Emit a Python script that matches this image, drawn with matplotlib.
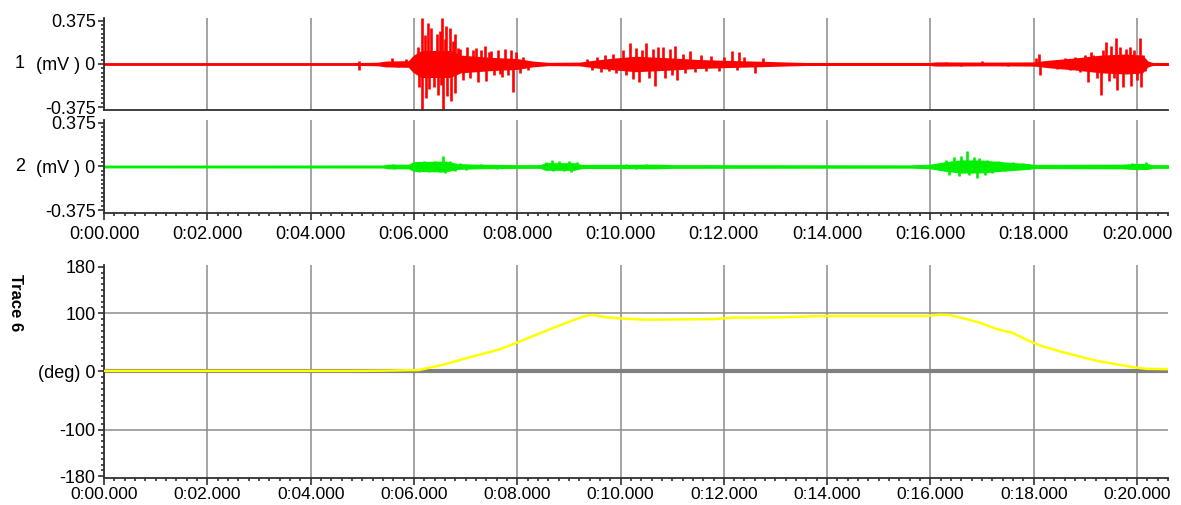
import matplotlib
matplotlib.use('Agg')
import matplotlib.pyplot as plt
from matplotlib.ticker import MultipleLocator, FuncFormatter

plt.rcParams['font.family'] = ['Liberation Sans', 'DejaVu Sans']

# channel 1 (red EMG): dense-core envelope + individual spikes, in mV
emg1_env_t = [0.0, 4.8, 5.3, 5.45, 5.9, 6.0, 6.15, 6.7, 6.9, 7.5, 8.0, 8.3, 8.6,
              9.2, 9.5, 9.9, 10.3, 11.0, 11.5, 12.0, 12.6, 13.3, 13.6, 16.0, 16.1,
              17.2, 18.0, 18.3, 18.8, 19.3, 19.8, 20.1, 20.2, 20.3, 20.6]
emg1_env = [0.005, 0.005, 0.008, 0.018, 0.022, 0.07, 0.11, 0.11, 0.07, 0.05, 0.04,
            0.018, 0.007, 0.009, 0.026, 0.045, 0.06, 0.045, 0.032, 0.025, 0.018,
            0.009, 0.006, 0.006, 0.011, 0.009, 0.011, 0.026, 0.045, 0.07, 0.08,
            0.07, 0.02, 0.006, 0.006]
emg1_spike_t = [4.93, 4.93, 5.57, 5.70, 5.85,
                6.08, 6.10, 6.15, 6.16, 6.21, 6.24, 6.27, 6.30, 6.34, 6.38, 6.44,
                6.47, 6.50, 6.53, 6.55, 6.56, 6.60, 6.63, 6.64, 6.70, 6.71, 6.76,
                6.79, 6.80, 6.85, 6.90, 6.95, 7.02, 7.08, 7.14, 7.21, 7.25, 7.30,
                7.37, 7.40, 7.45, 7.50, 7.55, 7.62, 7.66, 7.70, 7.76, 7.82, 7.88,
                7.92, 7.98, 8.05, 8.12, 8.20,
                9.35, 9.45, 9.55, 9.62, 9.70, 9.78, 9.85, 9.92, 10.05, 10.10, 10.18,
                10.24, 10.30, 10.36, 10.42, 10.50, 10.55, 10.62, 10.66, 10.72,
                10.82, 10.86, 10.95, 11.00, 11.06, 11.10, 11.20, 11.25, 11.34,
                11.45, 11.55, 11.65, 11.75, 11.90, 12.00, 12.15, 12.25, 12.30,
                12.40, 12.60, 12.75,
                16.3, 16.6, 17.0, 17.5, 18.05, 18.10, 18.12, 18.3, 18.45, 18.6,
                18.7, 18.8, 18.9, 19.0, 19.05, 19.10, 19.15, 19.22, 19.30, 19.35,
                19.40, 19.45, 19.50, 19.55, 19.60, 19.62, 19.68, 19.72, 19.78,
                19.86, 19.88, 19.95, 20.0, 20.05, 20.07, 20.12, 20.15]
emg1_spike_v = [0.03, -0.05, 0.05, -0.03, 0.04,
                0.15, -0.20, 0.40, -0.40, 0.25, -0.30, 0.36, -0.22, 0.31, -0.20, 0.26,
                -0.27, 0.29, -0.18, 0.40, -0.40, 0.22, 0.33, -0.28, 0.31, -0.32, 0.20,
                0.26, -0.25, 0.14, 0.13, -0.14, 0.15, -0.12, 0.12, 0.14, -0.16, 0.12,
                0.16, -0.15, 0.10, 0.11, -0.10, 0.12, -0.09, -0.11, 0.13, -0.10, 0.12,
                -0.24, 0.10, -0.08, 0.06, -0.05,
                0.04, -0.05, 0.06, -0.07, 0.08, -0.06, 0.09, -0.08, 0.12, -0.10, 0.18,
                -0.13, 0.14, -0.16, 0.12, 0.18, -0.12, 0.13, -0.19, 0.15,
                0.15, -0.12, 0.13, -0.10, 0.16, -0.14, 0.09, -0.08, 0.11,
                -0.07, 0.08, -0.06, 0.07, -0.06, 0.06, 0.11, -0.05, 0.10,
                0.06, -0.08, 0.05,
                0.02, -0.02, 0.025, -0.02, 0.05, 0.085, -0.10, 0.03, -0.04, 0.05,
                -0.05, 0.06, -0.07, 0.08, -0.16, 0.10, 0.08, -0.12, -0.27, 0.12,
                0.19, -0.15, 0.16, -0.12, 0.23, -0.23, 0.15, -0.20, 0.13,
                0.15, -0.19, 0.12, -0.14, 0.23, -0.20, 0.08, -0.06]

# channel 2 (green EMG), in mV
emg2_env_t = [0.0, 5.4, 5.5, 5.9, 6.0, 6.6, 6.85, 7.2, 8.0, 8.45, 8.55, 9.1, 9.25,
              10.0, 10.7, 11.0, 15.6, 16.0, 16.3, 16.6, 17.0, 17.5, 17.9, 18.0,
              19.7, 20.0, 20.2, 20.3, 20.6]
emg2_env = [0.005, 0.006, 0.013, 0.013, 0.035, 0.04, 0.018, 0.013, 0.009, 0.009,
            0.026, 0.026, 0.011, 0.011, 0.013, 0.009, 0.007, 0.013, 0.035, 0.05,
            0.048, 0.03, 0.018, 0.011, 0.013, 0.02, 0.018, 0.009, 0.009]
emg2_spike_t = [5.6, 5.62, 6.05, 6.10, 6.2, 6.3, 6.4, 6.5, 6.57, 6.6, 6.7, 6.8, 6.9,
                7.0, 7.3, 7.6, 8.55, 8.67, 8.7, 8.8, 8.9, 9.0, 9.05, 9.15, 10.1, 10.3,
                10.5, 16.3, 16.35, 16.45, 16.55, 16.6, 16.7, 16.75, 16.85, 16.9,
                16.95, 17.05, 17.1, 17.2, 17.3, 17.45, 17.6, 17.8, 19.9, 20.1, 20.18]
emg2_spike_v = [0.025, -0.02, 0.04, -0.05, 0.05, -0.05, 0.05, -0.045, 0.09, -0.06,
                0.05, -0.04, 0.03, -0.03, 0.02, -0.02, 0.04, 0.06, -0.04, 0.045,
                -0.04, 0.05, -0.045, 0.04, 0.02, -0.02, 0.02, 0.06, -0.07, 0.08,
                -0.08, 0.09, 0.13, -0.07, 0.08, -0.10, 0.07, -0.07, 0.06, -0.06,
                0.05, -0.04, 0.04, 0.03, 0.03, -0.025, 0.04]

# trace 6: joint angle, deg
angle_t = [0.0, 4.8, 5.5, 6.1, 6.57, 7.02, 7.66, 7.95, 8.31, 8.70, 9.08, 9.34, 9.47,
           9.73, 10.11, 10.5, 11.8, 12.18, 13.08, 13.8, 14.37, 15.92, 16.18, 16.37,
           16.70, 16.95, 17.28, 17.6, 17.92, 18.18, 18.57, 19.21, 19.92, 20.18, 20.6]
angle_deg = [1.0, 1.0, 1.5, 2.5, 11.8, 23, 38, 48, 61, 75, 88, 96, 97, 93, 90.5, 89,
             90, 92.5, 93, 95, 95.5, 95.5, 97.5, 97, 90, 84, 73, 66, 52, 43, 33,
             18.5, 7.5, 4.5, 4]

GRID = '#8c8c8c'
SPINE = '#303030'
FS = 13

fig = plt.figure(figsize=(11.81, 5.05), dpi=100)
ax1 = fig.add_axes([0.0881, 0.7822, 0.9009, 0.1822])
ax2 = fig.add_axes([0.0881, 0.5782, 0.9009, 0.1842])
ax3 = fig.add_axes([0.0881, 0.0535, 0.9009, 0.4218])

xfmt = FuncFormatter(lambda v, p: f"0:{int(round(v)):02d}.000")

for ax in (ax1, ax2, ax3):
    ax.set_xlim(0, 20.6)
    ax.xaxis.set_major_locator(MultipleLocator(2))
    ax.xaxis.set_minor_locator(MultipleLocator(0.2))
    ax.xaxis.set_major_formatter(xfmt)
    ax.grid(axis='x', which='major', color=GRID, lw=1.1)
    ax.set_axisbelow(True)
    for s in ('top', 'right'):
        ax.spines[s].set_visible(False)
    for s in ('left', 'bottom'):
        ax.spines[s].set_color(SPINE)
        ax.spines[s].set_linewidth(1.3)
    ax.tick_params(which='major', direction='out', length=4, width=1.2,
                   color=SPINE, labelsize=FS, pad=2)
    ax.tick_params(which='minor', direction='out', length=2, width=1.2, color=SPINE)
    ax.tick_params(axis='x', which='major', length=5, pad=4)

for ax, et, ev, st, sv, col, num in [
        (ax1, emg1_env_t, emg1_env, emg1_spike_t, emg1_spike_v, '#ff0000', '1'),
        (ax2, emg2_env_t, emg2_env, emg2_spike_t, emg2_spike_v, '#00f000', '2')]:
    ax.fill_between(et, [-v for v in ev], ev, color=col, lw=1.2)
    ax.vlines(st, 0, sv, color=col, lw=1.9)
    ax.set_ylim(-0.40, 0.40)
    ax.set_yticks([-0.375, 0, 0.375])
    ax.set_yticklabels(['-0.375', '(mV ) 0', '0.375'])
    ax.yaxis.set_minor_locator(MultipleLocator(0.0375))
    ax.text(-0.079, 0.5, num, transform=ax.transAxes, fontsize=FS,
            ha='center', va='center')

ax1.tick_params(axis='x', which='both', length=0, labelbottom=False)

ax3.axhline(0, color='#808080', lw=3, zorder=1)
for yv in (-100, 100):
    ax3.axhline(yv, color=GRID, lw=1.1, zorder=0)
ax3.plot(angle_t, angle_deg, color='#ffff00', lw=1.8, zorder=3)
ax3.set_ylim(-183, 183)
ax3.set_yticks([-180, -100, 0, 100, 180])
ax3.set_yticklabels(['-180', '-100', '(deg) 0', '100', '180'])
ax3.yaxis.set_minor_locator(MultipleLocator(10))
ax3.tick_params(axis='x', which='major', pad=1.5, labelsize=12.5)
fig.text(15 / 1181, 1 - 303 / 505, 'Trace 6', rotation=270, fontsize=12,
         fontweight='bold', ha='center', va='center')

fig.savefig('out.png', dpi=100)
